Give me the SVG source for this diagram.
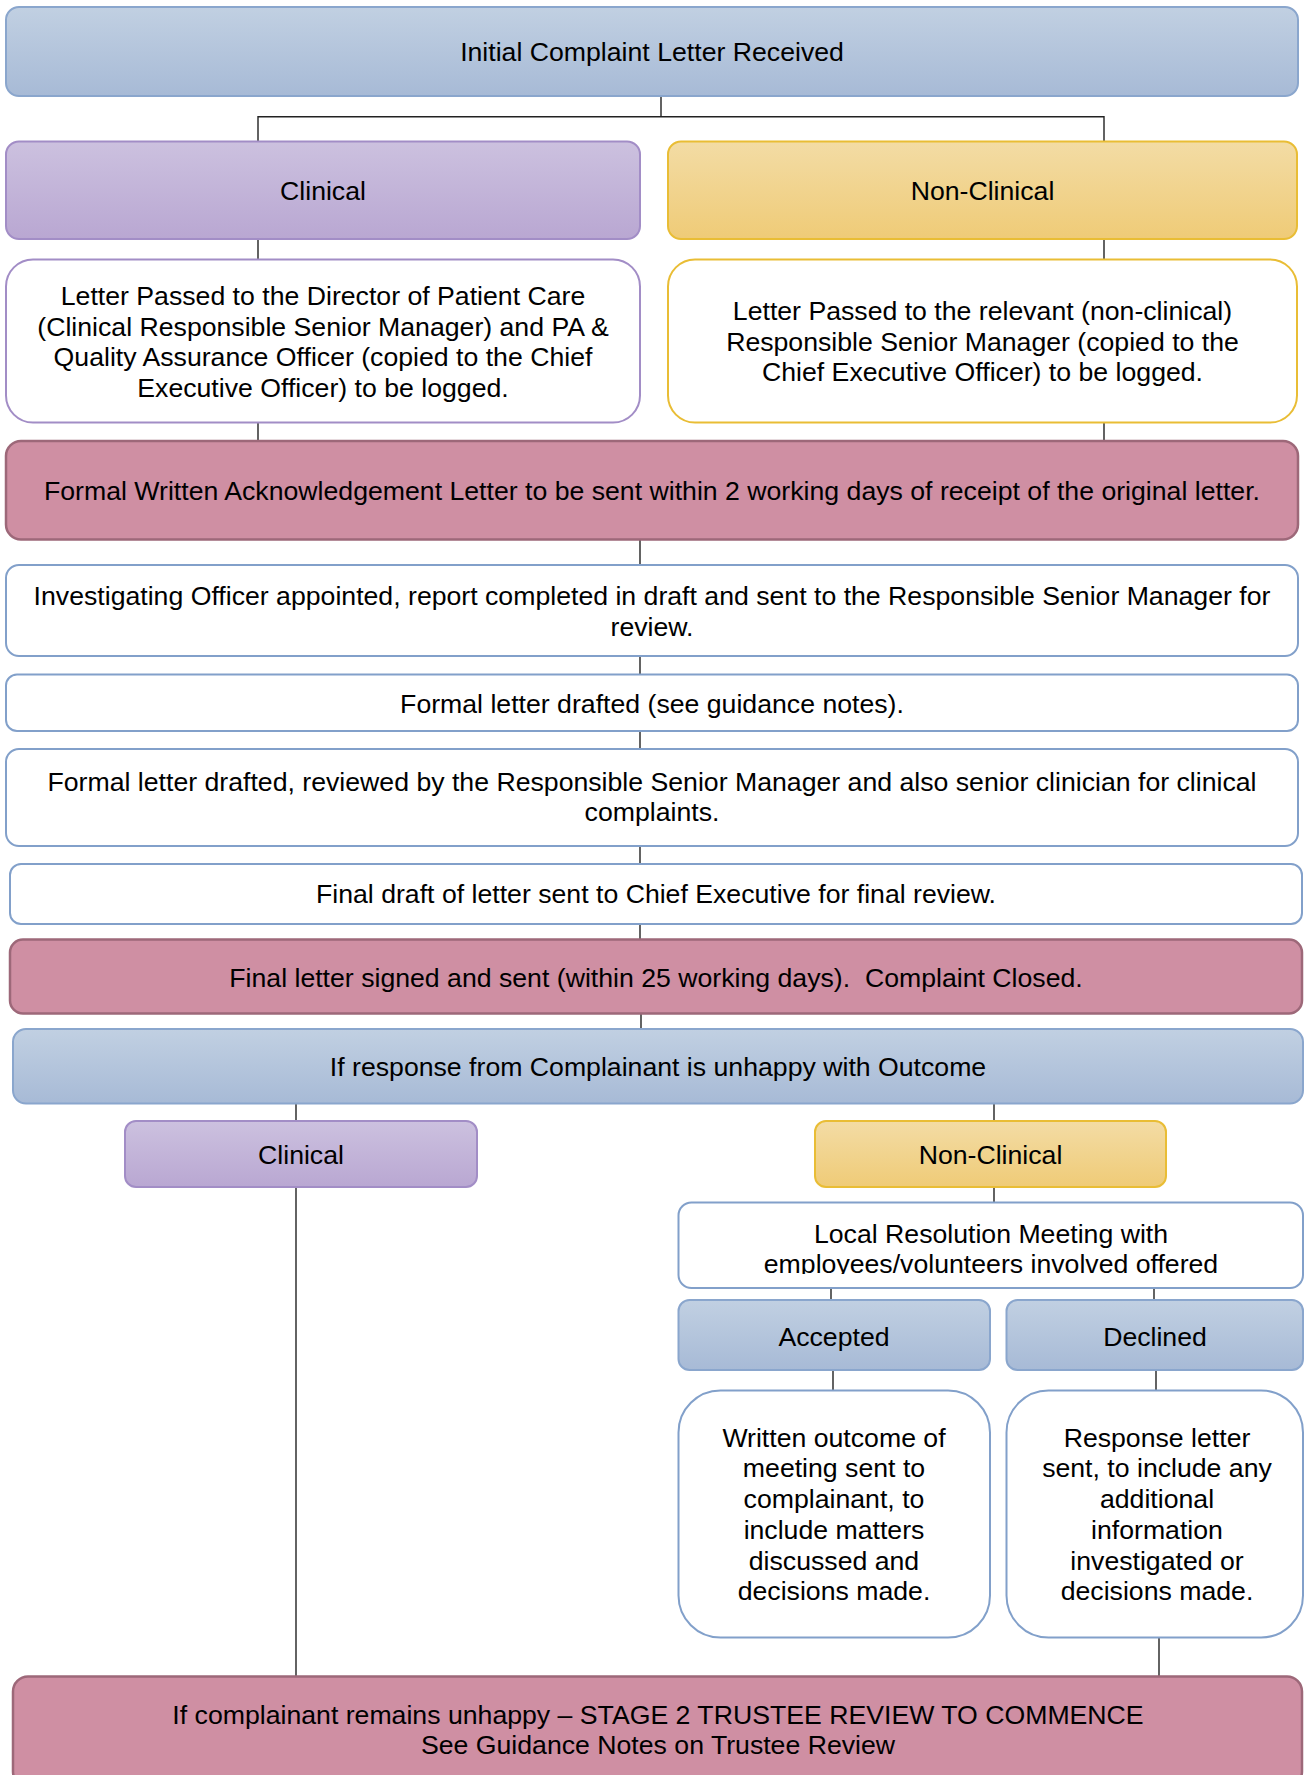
<svg xmlns="http://www.w3.org/2000/svg" width="1304" height="1775" viewBox="0 0 1304 1775">
<defs>
<linearGradient id="gBlue" x1="0" y1="0" x2="0" y2="1"><stop offset="0" stop-color="#c1d0e2"/><stop offset="1" stop-color="#a7bad6"/></linearGradient>
<linearGradient id="gPurple" x1="0" y1="0" x2="0" y2="1"><stop offset="0" stop-color="#ccc1df"/><stop offset="1" stop-color="#b9a7d2"/></linearGradient>
<linearGradient id="gGold" x1="0" y1="0" x2="0" y2="1"><stop offset="0" stop-color="#f3dca5"/><stop offset="1" stop-color="#efcb77"/></linearGradient>
<clipPath id="clipLocal"><rect x="678" y="1202" width="626" height="72"/></clipPath>
</defs>
<style>
text{font-family:"Liberation Sans",Arial,sans-serif;font-size:26.67px;fill:#000;text-anchor:middle}
.blue{fill:url(#gBlue);stroke:#8aa6cd;stroke-width:2}
.purple{fill:url(#gPurple);stroke:#a28dc6;stroke-width:2}
.gold{fill:url(#gGold);stroke:#e9bd35;stroke-width:2}
.pink{fill:#cf8fa3;stroke:#9d6879;stroke-width:2.5}
.wblue{fill:#fff;stroke:#82a0ca;stroke-width:2}
.wpurple{fill:#fff;stroke:#a28dc6;stroke-width:2}
.wgold{fill:#fff;stroke:#e9bd35;stroke-width:2}
.conn line,.conn path{stroke:#222;stroke-width:1.4;fill:none}
</style>

<g id="connectors" class="conn">
<path d="M661 96 V116.7 M258 141.5 V116.7 H1104 V141.5"/>
<line x1="258" y1="239" x2="258" y2="259"/>
<line x1="1104" y1="239" x2="1104" y2="259"/>
<line x1="258" y1="422" x2="258" y2="441"/>
<line x1="1104" y1="422" x2="1104" y2="441"/>
<line x1="640" y1="540" x2="640" y2="565"/>
<line x1="640" y1="656" x2="640" y2="674.5"/>
<line x1="640" y1="731" x2="640" y2="749"/>
<line x1="640" y1="846" x2="640" y2="864"/>
<line x1="640" y1="924" x2="640" y2="939.5"/>
<line x1="641" y1="1013.5" x2="641" y2="1029"/>
<line x1="296" y1="1104" x2="296" y2="1121"/>
<line x1="994" y1="1104" x2="994" y2="1121"/>
<line x1="296" y1="1187" x2="296" y2="1676.5"/>
<line x1="994" y1="1187" x2="994" y2="1202.5"/>
<line x1="831" y1="1288" x2="831" y2="1300"/>
<line x1="1154" y1="1288" x2="1154" y2="1300"/>
<line x1="833" y1="1370" x2="833" y2="1390.5"/>
<line x1="1156" y1="1370" x2="1156" y2="1390.5"/>
<line x1="1159" y1="1637.5" x2="1159" y2="1676.5"/>
</g>

<g id="n-initial"><rect class="blue" x="6" y="7" width="1292" height="89" rx="13"/><text x="652" y="60.5">Initial Complaint Letter Received</text></g>

<g id="n-clinical"><rect class="purple" x="6" y="141.5" width="634" height="97.5" rx="13"/><text x="323" y="200">Clinical</text></g>
<g id="n-nonclinical"><rect class="gold" x="668" y="141.5" width="629" height="97.5" rx="13"/><text x="982.5" y="200">Non-Clinical</text></g>

<g id="n-letter-clinical"><rect class="wpurple" x="6" y="259.5" width="634" height="163" rx="27"/>
<text x="323" y="305">Letter Passed to the Director of Patient Care</text>
<text x="323" y="335.7">(Clinical Responsible Senior Manager) and PA &amp;</text>
<text x="323" y="366.4">Quality Assurance Officer (copied to the Chief</text>
<text x="323" y="397.1">Executive Officer) to be logged.</text></g>

<g id="n-letter-nonclinical"><rect class="wgold" x="668" y="259.5" width="629" height="163" rx="27"/>
<text x="982.5" y="320">Letter Passed to the relevant (non-clinical)</text>
<text x="982.5" y="350.7">Responsible Senior Manager (copied to the</text>
<text x="982.5" y="381.4">Chief Executive Officer) to be logged.</text></g>

<g id="n-ack"><rect class="pink" x="6" y="441" width="1292" height="98.5" rx="15"/>
<text x="652" y="499.5">Formal Written Acknowledgement Letter to be sent within 2 working days of receipt of the original letter.</text></g>

<g id="n-investigating"><rect class="wblue" x="6" y="565" width="1292" height="91" rx="13"/>
<text x="652" y="605">Investigating Officer appointed, report completed in draft and sent to the Responsible Senior Manager for</text>
<text x="652" y="635.7">review.</text></g>

<g id="n-drafted"><rect class="wblue" x="6" y="674.5" width="1292" height="56.5" rx="11"/>
<text x="652" y="712.5">Formal letter drafted (see guidance notes).</text></g>

<g id="n-reviewed"><rect class="wblue" x="6" y="749" width="1292" height="97" rx="13"/>
<text x="652" y="790.5">Formal letter drafted, reviewed by the Responsible Senior Manager and also senior clinician for clinical</text>
<text x="652" y="821.2">complaints.</text></g>

<g id="n-finaldraft"><rect class="wblue" x="10" y="864" width="1292" height="60" rx="11"/>
<text x="656" y="903">Final draft of letter sent to Chief Executive for final review.</text></g>

<g id="n-signed"><rect class="pink" x="10" y="939.5" width="1292" height="74" rx="13"/>
<text x="656" y="986.5">Final letter signed and sent (within 25 working days).&#160; Complaint Closed.</text></g>

<g id="n-unhappy"><rect class="blue" x="13" y="1029" width="1290" height="74.5" rx="13"/>
<text x="658" y="1076">If response from Complainant is unhappy with Outcome</text></g>

<g id="n-clinical2"><rect class="purple" x="125" y="1121" width="352" height="66" rx="11"/><text x="301" y="1163.5">Clinical</text></g>
<g id="n-nonclinical2"><rect class="gold" x="815" y="1121" width="351" height="66" rx="11"/><text x="990.5" y="1163.5">Non-Clinical</text></g>

<g id="n-local"><rect class="wblue" x="678.5" y="1202.5" width="624.5" height="85.5" rx="13"/>
<g clip-path="url(#clipLocal)"><text x="991" y="1242.5">Local Resolution Meeting with</text>
<text x="991" y="1273.2">employees/volunteers involved offered</text></g></g>

<g id="n-accepted"><rect class="blue" x="678.5" y="1300" width="311.5" height="70" rx="11"/><text x="834" y="1346">Accepted</text></g>
<g id="n-declined"><rect class="blue" x="1006.5" y="1300" width="296.5" height="70" rx="11"/><text x="1155" y="1346">Declined</text></g>

<g id="n-written"><rect class="wblue" x="678.5" y="1390.5" width="311.5" height="247" rx="42"/>
<text x="834" y="1446.7">Written outcome of</text>
<text x="834" y="1477.4">meeting sent to</text>
<text x="834" y="1508.1">complainant, to</text>
<text x="834" y="1538.8">include matters</text>
<text x="834" y="1569.5">discussed and</text>
<text x="834" y="1600.2">decisions made.</text></g>

<g id="n-response"><rect class="wblue" x="1006.5" y="1390.5" width="296.5" height="247" rx="42"/>
<text x="1157" y="1446.7">Response letter</text>
<text x="1157" y="1477.4">sent, to include any</text>
<text x="1157" y="1508.1">additional</text>
<text x="1157" y="1538.8">information</text>
<text x="1157" y="1569.5">investigated or</text>
<text x="1157" y="1600.2">decisions made.</text></g>

<g id="n-stage2"><rect class="pink" x="13" y="1676.5" width="1289" height="110" rx="15"/>
<text x="658" y="1724">If complainant remains unhappy – STAGE 2 TRUSTEE REVIEW TO COMMENCE</text>
<text x="658" y="1754">See Guidance Notes on Trustee Review</text></g>
</svg>
